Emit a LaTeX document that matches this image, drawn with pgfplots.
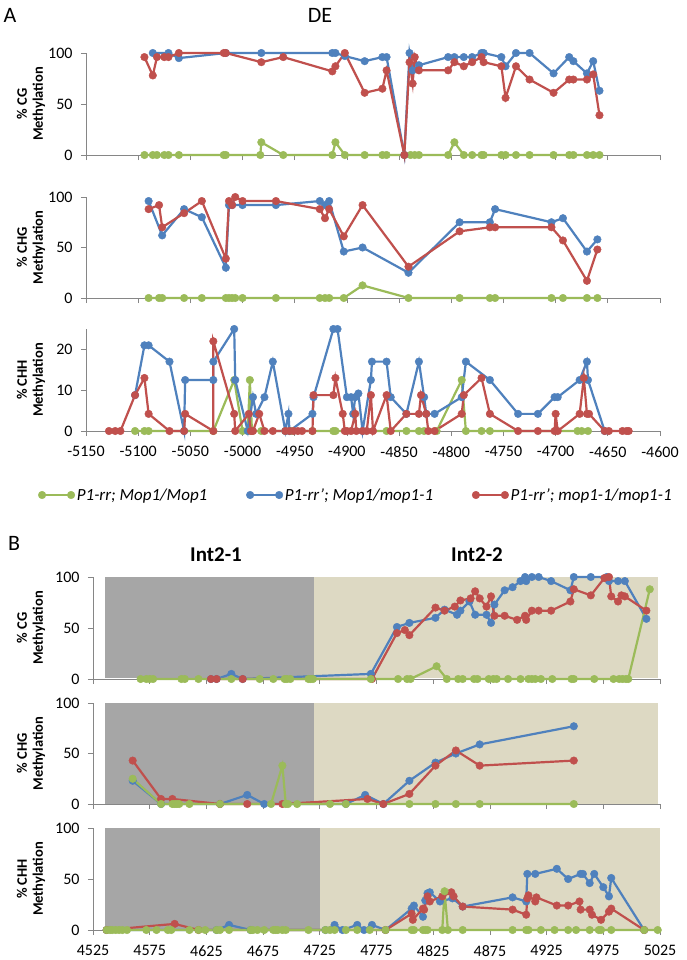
\documentclass[border=0pt]{standalone}
\usepackage{fontspec}
\setmainfont{Carlito}
\usepackage{pgfplots}
\pgfplotsset{compat=1.18}
\definecolor{cgreen}{HTML}{9BBB59}
\definecolor{cblue}{HTML}{4F81BD}
\definecolor{cred}{HTML}{C0504D}
\definecolor{axgray}{HTML}{868686}
\definecolor{bggray}{HTML}{A6A6A6}
\definecolor{bgtan}{HTML}{DDD9C3}
\pgfplotsset{
  panel/.style={scale only axis, clip=false,
    axis x line*=bottom, axis y line*=left,
    axis line style={axgray, line width=0.75bp},
    tick style={axgray, line width=0.75bp},
    tick align=outside, major tick length=5bp,
    ymin=0,
    ticklabel style={font=\fontsize{16bp}{19bp}\selectfont, text=black},
    xticklabel style={yshift=-7bp},
    yticklabel style={xshift=-5bp},
    ylabel style={font=\bfseries\fontsize{14.5bp}{16bp}\selectfont, align=center, anchor=center}},
  pA/.style={panel, width=574bp, xmin=-5150, xmax=-4600,
    xtick={-5150,-5100,-5050,-5000,-4950,-4900,-4850,-4800,-4750,-4700,-4650,-4600},
    xticklabels={}, ylabel style={at={(axis description cs:-0.0958,0.5)}}},
  pB/.style={panel, width=567bp, xmin=4525, xmax=5025,
    xtick={4525,4575,4625,4675,4725,4775,4825,4875,4925,4975,5025},
    xticklabels={}, ylabel style={at={(axis description cs:-0.1093,0.5)}},
    ymax=100, ytick={0,50,100}, yticklabels={0,50,100}},
  gs/.style={color=cgreen, line width=2.2bp, mark=*, mark size=3.8bp, mark options={line width=0.4bp}},
  bs/.style={color=cblue, line width=2.2bp, mark=*, mark size=3.8bp, mark options={line width=0.4bp}},
  rs/.style={color=cred, line width=2.2bp, mark=*, mark size=3.8bp, mark options={line width=0.4bp}},
}
\begin{document}
\begin{tikzpicture}
\useasboundingbox (0,0) rectangle (687bp,-960bp);
\fill[white] (0,0) rectangle (687bp,-960bp);

% ---------------- Panel A: CG ----------------
\begin{axis}[pA, at={(86bp,-155bp)}, anchor=south west, height=102bp,
  ymax=100, ytick={0,50,100}, yticklabels={0,50,100},
  ylabel={\% CG\\Methylation}]
\addplot[gs] coordinates {(-5094,0) (-5086,0) (-5082,0) (-5075,0) (-5071,0) (-5061,0) (-5018,0) (-5016,0) (-4983,0) (-4982,12.5) (-4961,0) (-4914,0) (-4911,12.5) (-4902,0) (-4883,0) (-4866,0) (-4862,0) (-4845,0) (-4839,0) (-4835,0) (-4831,0) (-4803,0) (-4797,12.5) (-4788,0) (-4780,0) (-4771,0) (-4769,0) (-4752,0) (-4748,0) (-4738,0) (-4725,0) (-4702,0) (-4687,0) (-4683,0) (-4670,0) (-4664,0) (-4658,0)};
\addplot[bs] coordinates {(-5086,100) (-5071,100) (-5061,95) (-5016,100) (-4982,100) (-4914,100) (-4911,100) (-4902,97) (-4883,92) (-4866,96) (-4862,96) (-4845,0) (-4840,100) (-4837,83) (-4831,88) (-4803,96) (-4797,96) (-4788,96) (-4780,96) (-4771,100) (-4769,100) (-4752,96) (-4748,87) (-4738,100) (-4725,100) (-4702,80) (-4687,96) (-4683,92) (-4670,80) (-4664,92) (-4658,63)};
\addplot[rs] coordinates {(-5094,96) (-5086,78) (-5082,96) (-5075,96) (-5071,96) (-5061,100) (-5018,100) (-5016,100) (-4982,91) (-4961,96) (-4914,82) (-4911,87) (-4902,100) (-4883,61) (-4866,65) (-4862,83) (-4845,0) (-4840,91) (-4837,70) (-4835,96) (-4831,83) (-4803,83) (-4797,91) (-4788,87) (-4780,91) (-4771,96) (-4769,91) (-4752,87) (-4748,56) (-4738,87) (-4725,74) (-4702,61) (-4687,74) (-4683,74) (-4670,74) (-4664,79) (-4658,39)};
\end{axis}

% ---------------- Panel A: CHG ----------------
\begin{axis}[pA, at={(86bp,-298bp)}, anchor=south west, height=101bp,
  ymax=100, ytick={0,50,100}, yticklabels={0,50,100},
  ylabel={\% CHG\\Methylation}]
\addplot[gs] coordinates {(-5090,0) (-5080,0) (-5077,0) (-5056,0) (-5039,0) (-5016,0) (-5013,0) (-5010,0) (-5007,0) (-5000,0) (-4968,0) (-4926,0) (-4921,0) (-4917,0) (-4903,0) (-4885,12.5) (-4841,0) (-4792,0) (-4763,0) (-4758,0) (-4704,0) (-4693,0) (-4670,0) (-4660,0)};
\addplot[bs] coordinates {(-5090,96) (-5077,62) (-5056,88) (-5039,80) (-5016,30) (-5013,92) (-5010,92) (-5000,92) (-4968,92) (-4926,96) (-4921,92) (-4917,96) (-4903,46) (-4885,50) (-4841,25) (-4792,75) (-4763,75) (-4758,88) (-4704,75) (-4693,79) (-4670,46) (-4660,58)};
\addplot[rs] coordinates {(-5090,88) (-5080,92) (-5077,70) (-5056,84) (-5039,96) (-5016,39) (-5013,96) (-5010,92) (-5007,100) (-5000,96) (-4968,96) (-4926,88) (-4921,79) (-4917,88) (-4903,61) (-4885,92) (-4841,31) (-4792,66) (-4763,70) (-4758,70) (-4704,70) (-4693,57) (-4670,17) (-4660,48)};
\end{axis}

% ---------------- Panel A: CHH ----------------
\begin{axis}[pA, at={(86bp,-431bp)}, anchor=south west, height=102bp,
  ymax=25, ytick={0,10,20}, yticklabels={0,10,20},
  xticklabels={-5150,-5100,-5050,-5000,-4950,-4900,-4850,-4800,-4750,-4700,-4650,-4600},
  ylabel={\% CHH\\Methylation},
  legend style={at={(axis description cs:-0.0835,-0.6275)}, anchor=west, draw=none, fill=none,
    inner sep=0pt, font=\itshape\fontsize{17bp}{20bp}\selectfont,
    /tikz/every even column/.append style={column sep=37bp}},
  legend columns=3, legend cell align=left,
  legend image code/.code={\draw[#1] plot coordinates {(0bp,0bp) (29bp,0bp)};}]
\addplot[gs] coordinates {(-5103,0) (-5094,0) (-5090,0) (-5028,0) (-5008,12.5) (-5000,0) (-4995,0) (-4993,12.5) (-4991,0) (-4982,0) (-4959,0) (-4953,0) (-4933,0) (-4913,0) (-4911,0) (-4862,0) (-4843,0) (-4831,0) (-4826,0) (-4814,0) (-4790,12.5) (-4786,0) (-4771,0) (-4763,0) (-4679,0) (-4675,0) (-4669,0)};
\addlegendentry{P1-rr; Mop1/Mop1}
\addplot[bs] coordinates {(-5103,8.8) (-5094,21) (-5090,21) (-5070,17) (-5056,0) (-5055,12.5) (-5028,12.5) (-5028,17) (-5008,25) (-5007,12.5) (-4995,0) (-4990,8.3) (-4987,4.2) (-4979,8.3) (-4971,17) (-4959,0) (-4956,4.2) (-4955,0) (-4933,4.2) (-4932,8.3) (-4913,25) (-4909,25) (-4900,8.3) (-4896,8.3) (-4894,4.2) (-4892,8.3) (-4889,9.2) (-4885,0) (-4877,12.5) (-4876,17) (-4862,17) (-4858,8.3) (-4843,4.2) (-4831,17) (-4826,8.3) (-4824,4.2) (-4816,4.2) (-4790,8.3) (-4786,17) (-4763,12.5) (-4736,4.2) (-4717,4.2) (-4701,8.3) (-4698,8.3) (-4677,12.5) (-4670,17) (-4669,12.5) (-4653,0)};
\addlegendentry{P1-rr’; Mop1/mop1-1}
\addplot[rs] coordinates {(-5128,0) (-5122,0) (-5117,0) (-5103,8.8) (-5094,13) (-5090,4.2) (-5070,0) (-5056,0) (-5055,4.2) (-5028,0) (-5028,22) (-5008,4.2) (-5007,0) (-4994,4.2) (-4992,0) (-4990,0) (-4984,4.2) (-4979,0) (-4971,0) (-4959,0) (-4955,0) (-4951,0) (-4947,0) (-4943,0) (-4933,0) (-4932,8.8) (-4913,8.8) (-4911,13) (-4904,4.2) (-4902,0) (-4900,0) (-4896,0) (-4892,4.2) (-4891,0) (-4885,0) (-4881,0) (-4877,8.8) (-4875,0) (-4862,8.8) (-4858,0) (-4843,4.2) (-4831,4.2) (-4829,8.8) (-4824,4.2) (-4822,0) (-4816,0) (-4790,4.2) (-4788,8.8) (-4771,13) (-4763,4.2) (-4736,0) (-4717,0) (-4701,0) (-4700,4.2) (-4698,0) (-4677,4.2) (-4673,13) (-4670,4.2) (-4668,4.2) (-4653,0) (-4649,0) (-4636,0) (-4632,0) (-4630,0)};
\addlegendentry{P1-rr’; mop1-1/mop1-1}
\end{axis}

% ---------------- Panel B: CG ----------------
\begin{axis}[pB, at={(93bp,-679bp)}, anchor=south west, height=102bp,
  ylabel={\% CG\\Methylation}]
\addplot[fill=bggray, draw=none, forget plot] coordinates {(4536,0.5) (4536,100) (4720,100) (4720,0.5)} -- cycle;
\addplot[fill=bgtan, draw=none, forget plot] coordinates {(4720,0.5) (4720,100) (5023,100) (5023,0.5)} -- cycle;
\addplot[bs] coordinates {(4629,0) (4634,0) (4647,5) (4657,0) (4770,5) (4793,51) (4804,55) (4827,60) (4835,68) (4846,63) (4849,67) (4857,76) (4862,63) (4872,63) (4876,55) (4879,73) (4888,87) (4895,90) (4902,96) (4906,100) (4907,96) (4912,100) (4918,100) (4929,96) (4946,87) (4949,100) (4964,100) (4978,100) (4980,96) (4988,96) (4994,96) (5013,59)};
\addplot[rs] coordinates {(4629,0) (4634,0) (4657,0) (4771,0) (4793,45) (4800,48) (4804,43) (4827,70) (4835,67) (4844,71) (4849,77) (4858,79) (4862,86) (4866,79) (4872,71) (4876,81) (4879,62) (4888,62) (4899,58) (4906,62) (4907,58) (4912,67) (4918,67) (4929,67) (4946,76) (4949,88) (4964,82) (4976,99) (4980,100) (4982,81) (4988,76) (4991,82) (4994,81) (5013,67)};
\addplot[gs] coordinates {(4567,0) (4572,0) (4575,0) (4578,0) (4603,0) (4606,0) (4618,0) (4647,0) (4672,0) (4684,0) (4694,0) (4696,0) (4699,0) (4715,0) (4717,0) (4719,0) (4770,0) (4794,0) (4802,0) (4805,0) (4828,12.5) (4837,0) (4847,0) (4851,0) (4861,0) (4864,0) (4874,0) (4878,0) (4881,0) (4891,0) (4902,0) (4909,0) (4912,0) (4915,0) (4920,0) (4930,0) (4947,0) (4949,0) (4967,0) (4984,0) (4989,0) (4992,0) (4995,0) (4997,0) (5016,88)};
\end{axis}

% ---------------- Panel B: CHG ----------------
\begin{axis}[pB, at={(93bp,-804bp)}, anchor=south west, height=101bp,
  ylabel={\% CHG\\Methylation}]
\addplot[fill=bggray, draw=none, forget plot] coordinates {(4536,0.5) (4536,100) (4720,100) (4720,0.5)} -- cycle;
\addplot[fill=bgtan, draw=none, forget plot] coordinates {(4720,0.5) (4720,100) (5023,100) (5023,0.5)} -- cycle;
\addplot[bs] coordinates {(4560,23) (4585,0) (4637,0) (4661,9) (4676,0) (4748,0) (4765,9) (4781,0) (4804,23) (4827,41) (4845,50) (4866,59) (4949,77)};
\addplot[rs] coordinates {(4560,43) (4585,5) (4595,5) (4637,0) (4661,0) (4692,0) (4767,5) (4781,0) (4804,10) (4827,38) (4845,53) (4866,38) (4949,43)};
\addplot[gs] coordinates {(4560,25) (4585,0) (4595,0) (4597,0) (4599,0) (4601,0) (4610,0) (4637,0) (4682,0) (4692,38) (4695,0) (4697,0) (4705,0) (4734,0) (4748,0) (4804,0) (4827,0) (4845,0) (4866,0) (4949,0)};
\end{axis}

% ---------------- Panel B: CHH ----------------
\begin{axis}[pB, at={(93bp,-930bp)}, anchor=south west, height=102bp,
  xticklabels={4525,4575,4625,4675,4725,4775,4825,4875,4925,4975,5025},
  ylabel={\% CHH\\Methylation}]
\addplot[fill=bggray, draw=none, forget plot] coordinates {(4536,0.5) (4536,100) (4725,100) (4725,0.5)} -- cycle;
\addplot[fill=bgtan, draw=none, forget plot] coordinates {(4725,0.5) (4725,100) (5025,100) (5025,0.5)} -- cycle;
\addplot[bs] coordinates {(4537,0) (4634,0) (4645,5) (4664,0) (4730,0) (4738,5) (4745,0) (4758,5) (4764,0) (4771,5) (4783,0) (4806,21) (4808,24) (4816,13) (4818,29) (4820,36) (4822,37) (4831,28) (4842,31) (4851,23) (4895,32) (4907,28) (4908,55) (4915,55) (4934,60) (4944,50) (4955,55) (4957,55) (4963,46) (4967,55) (4975,42) (4980,33) (4982,51) (5011,0)};
\addplot[rs] coordinates {(4537,0) (4597,6) (4618,0) (4783,0) (4806,16) (4807,10) (4816,21) (4817,20) (4820,33) (4822,28) (4833,33) (4841,37) (4843,33) (4851,23) (4895,20) (4907,15) (4908,31) (4909,34) (4915,28) (4916,32) (4934,24) (4944,24) (4954,28) (4955,20) (4963,20) (4965,15) (4973,10) (4980,18) (4982,21) (5011,0)};
\addplot[gs] coordinates {(4537,0) (4540,0) (4542,0) (4545,0) (4548,0) (4551,0) (4555,0) (4572,0) (4581,0) (4591,0) (4594,0) (4610,0) (4618,0) (4624,0) (4634,0) (4637,0) (4645,0) (4664,0) (4666,0) (4670,0) (4676,0) (4684,0) (4686,0) (4688,0) (4692,0) (4695,0) (4715,0) (4730,0) (4734,0) (4738,0) (4748,0) (4758,0) (4769,0) (4783,0) (4806,0) (4808,0) (4816,0) (4818,0) (4820,0) (4833,0) (4835,38) (4838,0) (4851,0) (4895,0) (4907,0) (4909,0) (4920,0) (4932,0) (4944,0) (4951,0) (4963,0) (4971,0) (4973,0) (4982,0) (5011,0) (5023,0)};
\end{axis}

% ---------------- Titles ----------------
\node[font=\fontsize{22bp}{24bp}\selectfont, anchor=center] at (10bp,-15bp) {A};
\node[font=\fontsize{22bp}{24bp}\selectfont, anchor=center] at (320bp,-15bp) {DE};
\node[font=\fontsize{22bp}{24bp}\selectfont, anchor=center] at (14bp,-543bp) {B};
\node[font=\bfseries\fontsize{21bp}{24bp}\selectfont, anchor=center] at (216bp,-555bp) {Int2-1};
\node[font=\bfseries\fontsize{21bp}{24bp}\selectfont, anchor=center] at (477bp,-555bp) {Int2-2};
\end{tikzpicture}
\end{document}
